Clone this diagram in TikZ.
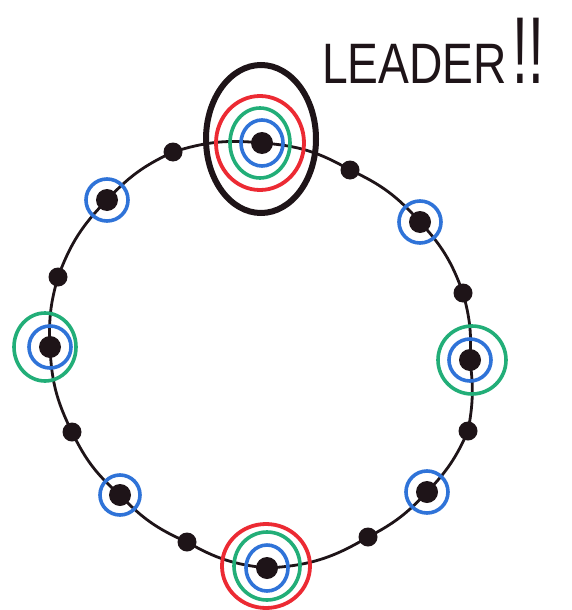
\documentclass[tikz,border=0pt]{standalone}
\usepackage{fontspec}
\setmainfont{Liberation Sans}
\usetikzlibrary{backgrounds}
\definecolor{ink}{HTML}{1E1418}
\definecolor{rblue}{HTML}{2F73D8}
\definecolor{rgreen}{HTML}{22AE78}
\definecolor{rred}{HTML}{EC2A33}
\begin{document}
\begin{tikzpicture}[x=1pt,y=-1pt,
  dot/.style={circle,fill=ink,inner sep=0pt,minimum size=22pt},
  sdot/.style={circle,fill=ink,inner sep=0pt,minimum size=19pt},
  link/.style={draw=ink,line width=2.8pt},
  bluering/.style={draw=rblue,line width=3.6pt},
  greenring/.style={draw=rgreen,line width=3.6pt},
  redring/.style={draw=rred,line width=3.8pt},
  leaderring/.style={draw=ink,line width=6pt}]
\useasboundingbox (0,0) rectangle (571,610);

% nodes on the ring
\node[dot]  (n1)  at (262,143) {};
\node[sdot] (n2)  at (350,170) {};
\node[dot]  (n3)  at (420,222) {};
\node[sdot] (n4)  at (463,293) {};
\node[dot]  (n5)  at (470,360) {};
\node[sdot] (n6)  at (468,431) {};
\node[dot]  (n7)  at (427,492) {};
\node[sdot] (n8)  at (368,537) {};
\node[dot]  (n9)  at (267,568) {};
\node[sdot] (n10) at (187,542) {};
\node[dot]  (n11) at (120,495) {};
\node[sdot] (n12) at (72,432) {};
\node[dot]  (n13) at (50,347) {};
\node[sdot] (n14) at (58,277) {};
\node[dot]  (n15) at (107,200) {};
\node[sdot] (n16) at (173,152) {};

\begin{pgfonlayer}{background}
\fill[white] (0,0) rectangle (571,610);
\draw[link] (n1.center) to[bend left=13] (n2.center)
  to[bend left=12] (n3.center)
  to[bend left=11.5] (n4.center)
  to[bend left=9.5] (n5.center)
  to[bend left=9] (n6.center)
  to[bend left=10] (n7.center)
  to[bend left=10] (n8.center)
  to[bend left=14] (n9.center)
  to[bend left=12] (n10.center)
  to[bend left=11.5] (n11.center)
  to[bend left=11.5] (n12.center)
  to[bend left=12] (n13.center)
  to[bend left=9.5] (n14.center)
  to[bend left=12] (n15.center)
  to[bend left=11] (n16.center)
  to[bend left=11.5] (n1.center);
\end{pgfonlayer}

% rings
\draw[bluering] (n3) circle[radius=21pt];
\draw[bluering] (n7) circle[radius=21pt];
\draw[bluering] (n11) circle[radius=20pt];
\draw[bluering] (n15) circle[radius=21pt];

\draw[bluering] (n5) circle[radius=21pt];
\draw[greenring] ([xshift=2pt]n5.center) circle[radius=34pt];
\draw[bluering] (n13) circle[radius=21pt];
\draw[greenring] ([xshift=-5pt]n13.center) circle[x radius=31pt,y radius=34pt];

% bottom node
\draw[bluering] (n9) circle[x radius=21pt,y radius=23pt];
\draw[greenring] ([shift={(0,-2)}]n9.center) circle[x radius=33pt,y radius=34pt];
\draw[redring] ([shift={(-1,-2)}]n9.center) circle[x radius=44pt,y radius=42pt];

% leader
\draw[bluering] (n1) circle[x radius=21pt,y radius=23pt];
\draw[greenring] ([shift={(-2,0)}]n1.center) circle[x radius=30pt,y radius=35pt];
\draw[redring] ([shift={(-2,0)}]n1.center) circle[x radius=44pt,y radius=47pt];
\draw[leaderring] ([shift={(-1,-4)}]n1.center) circle[x radius=55pt,y radius=74pt];

\node[anchor=base west,inner sep=0pt,text=ink] (lead) at (322,84)
  {\fontsize{57}{57}\selectfont\scalebox{0.81}[1]{LEADER}\hspace{6pt}\scalebox{0.6}[1]{\fontsize{95}{95}\selectfont !!}};
\end{tikzpicture}
\end{document}
